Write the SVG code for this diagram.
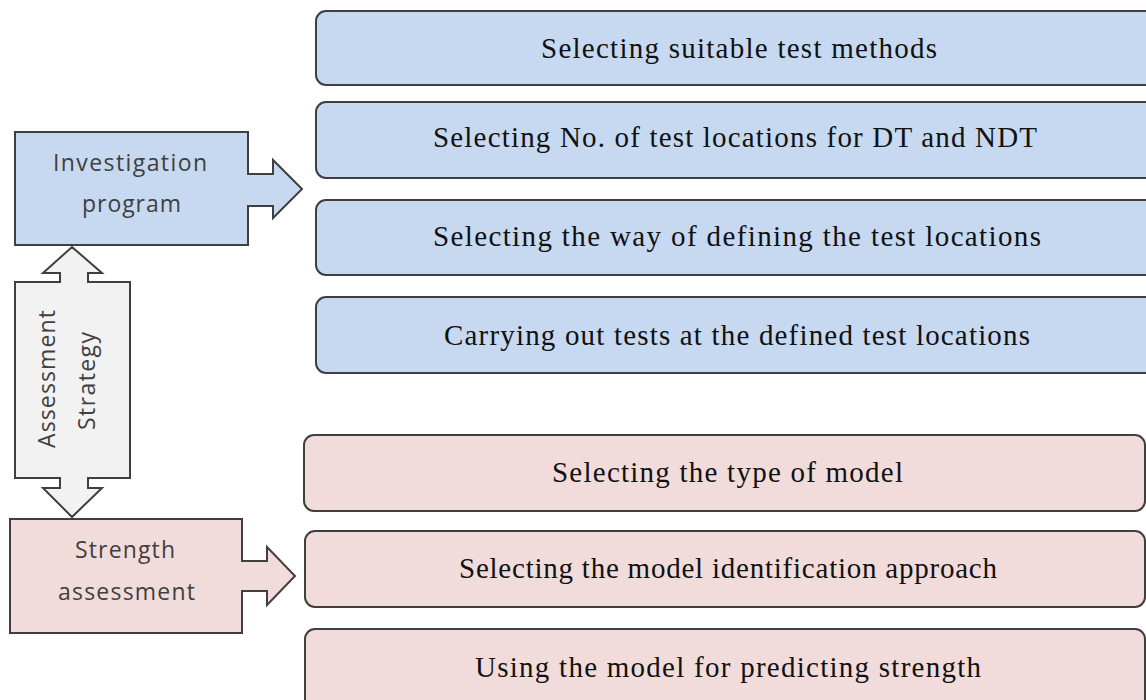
<svg xmlns="http://www.w3.org/2000/svg" width="1146" height="700" viewBox="0 0 1146 700">
<style>
.blue{fill:#c6d9f0;stroke:#3f3f3f;stroke-width:2}
.pink{fill:#f2dcdb;stroke:#3f3f3f;stroke-width:2}
.grey{fill:#f2f2f2;stroke:#3f3f3f;stroke-width:2}
.serif{font-family:"Liberation Serif","DejaVu Serif",serif;font-size:29px;fill:#111;text-anchor:middle}
.sans{font-family:"Open Sans","Liberation Sans",sans-serif;font-size:23px;fill:#404040;text-anchor:middle}
</style>
<rect width="1146" height="700" fill="#fff"/>
<g id="investigation-program">
<path class="blue" d="M15,132 H248 V174 H273 V160 L302,189 L273,218 V206 H248 V245 H15 Z"/>
<text class="sans" x="130" y="171" textLength="154">Investigation</text>
<text class="sans" x="131.5" y="212" textLength="99">program</text>
</g>
<g id="assessment-strategy">
<path class="grey" d="M72,247 L102,273 H88 V282 H130 V478 H88 V488 H102 L72,517 L43,488 H60 V478 H15 V282 H60 V273 H43 Z"/>
<text class="sans" transform="translate(55,379) rotate(-90)" x="0" y="0" textLength="138">Assessment</text>
<text class="sans" transform="translate(95,381) rotate(-90)" x="0" y="0" textLength="98">Strategy</text>
</g>
<g id="strength-assessment">
<path class="pink" d="M10,519 H242 V561 H267 V547 L295,576 L267,605 V591 H242 V633 H10 Z"/>
<text class="sans" x="125" y="558" textLength="100">Strength</text>
<text class="sans" x="126.5" y="600" textLength="137">assessment</text>
</g>
<g id="step1">
<rect class="blue" x="316" y="11" width="850" height="74" rx="10"/>
<text class="serif" x="739" y="58" textLength="396">Selecting suitable test methods</text>
</g>
<g id="step2">
<rect class="blue" x="316" y="102" width="850" height="76" rx="10"/>
<text class="serif" x="735" y="147" textLength="604">Selecting No. of test locations for DT and NDT</text>
</g>
<g id="step3">
<rect class="blue" x="316" y="200" width="850" height="75" rx="10"/>
<text class="serif" x="737" y="246" textLength="608">Selecting the way of defining the test locations</text>
</g>
<g id="step4">
<rect class="blue" x="316" y="297" width="850" height="76" rx="10"/>
<text class="serif" x="737" y="345" textLength="586">Carrying out tests at the defined test locations</text>
</g>
<g id="step5">
<rect class="pink" x="304" y="435" width="841" height="76" rx="10"/>
<text class="serif" x="727.5" y="482" textLength="351">Selecting the type of model</text>
</g>
<g id="step6">
<rect class="pink" x="305" y="531" width="840" height="76" rx="10"/>
<text class="serif" x="728" y="578" textLength="538">Selecting the model identification approach</text>
</g>
<g id="step7">
<rect class="pink" x="305" y="629" width="840" height="80" rx="10"/>
<text class="serif" x="728" y="677" textLength="506">Using the model for predicting strength</text>
</g>
<g id="connectors"></g>
</svg>
